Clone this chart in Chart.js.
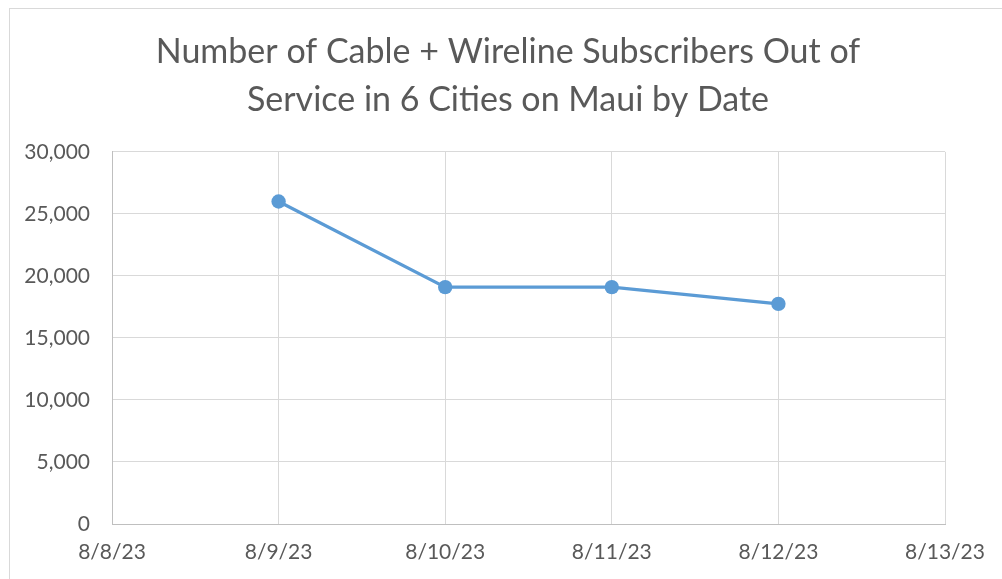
<!DOCTYPE html>
<html>
<head>
<meta charset="utf-8">
<script src="https://cdn.jsdelivr.net/npm/chart.js@4/dist/chart.umd.min.js"></script>
<style>
html,body{margin:0;padding:0;background:#fff;overflow:hidden;}
#frame{position:absolute;left:9px;top:8px;width:1100px;height:700px;border:1px solid #d9d9d9;box-sizing:border-box;}
#wrap{position:absolute;left:0;top:0;width:1002px;height:579px;}
</style>
</head>
<body>
<div id="frame"></div>
<div id="wrap"><canvas id="c" width="1002" height="579"></canvas></div>
<script>
const titleLines = ["Number of Cable + Wireline Subscribers Out of", "Service in 6 Cities on Maui by Date"];
const dates = ["8/8/23", "8/9/23", "8/10/23", "8/11/23", "8/12/23", "8/13/23"];
const subscribers = [null, 26000, 19100, 19100, 17750, null];
const yMin = 0, yMax = 30000, yStep = 5000;

const txt = '#595959';
const grid = '#d9d9d9';
const fam = 'Lato, "Liberation Sans", sans-serif';

new Chart(document.getElementById('c'), {
  type: 'line',
  data: {
    labels: dates,
    datasets: [{
      data: subscribers,
      borderColor: '#5b9bd5',
      backgroundColor: '#5b9bd5',
      borderWidth: 3.2,
      pointRadius: 7.2,
      pointHoverRadius: 7.2,
      pointBorderWidth: 0,
      tension: 0,
      spanGaps: false
    }]
  },
  options: {
    responsive: false,
    animation: false,
    events: [],
    layout: { padding: { left: 14, right: 0, top: 0, bottom: 0 } },
    plugins: {
      legend: { display: false },
      tooltip: { enabled: false },
      title: {
        display: true,
        text: titleLines,
        color: txt,
        font: { family: fam, size: 34, weight: 'normal', lineHeight: 1.41 },
        padding: { top: 28, bottom: 28 }
      }
    },
    scales: {
      x: {
        type: 'category',
        offset: false,
        grid: { color: grid, lineWidth: 1, drawTicks: false },
        border: { color: '#bfbfbf', width: 1 },
        ticks: { color: txt, font: { family: fam, size: 21 }, padding: 16, maxRotation: 0, autoSkip: false },
        afterFit: s => { s.height = 55; }
      },
      y: {
        min: yMin, max: yMax,
        grid: { color: grid, lineWidth: 1, drawTicks: false },
        border: { color: '#bfbfbf', width: 1 },
        ticks: {
          stepSize: yStep, color: txt, font: { family: fam, size: 21 }, padding: 22,
          callback: v => v.toLocaleString('en-US')
        },
        afterFit: s => { s.width = 98; }
      },
      yr: {
        position: 'right',
        display: true,
        min: yMin, max: yMax,
        grid: { display: false },
        border: { display: false },
        ticks: { display: false },
        afterFit: s => { s.width = 57; }
      }
    }
  }
});
</script>
</body>
</html>
